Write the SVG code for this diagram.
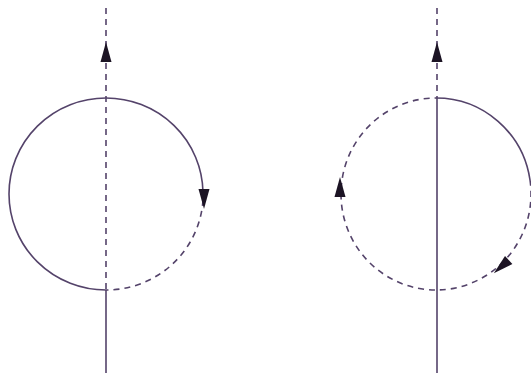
<svg xmlns="http://www.w3.org/2000/svg" width="531" height="373" viewBox="0 0 531 373">
<style>
.ln{fill:none;stroke:#54436a;stroke-width:1.6}
.ds{stroke-dasharray:6 5}
.ah{fill:#1c1424;stroke:none}
</style>
<defs>
<path id="arr" d="M0,-11 L5.5,9 L-5.5,9 Z"/>
</defs>
<rect width="531" height="373" fill="#fff"/>
<g id="left-diagram">
<path class="ln ds" d="M106,8 L106,290"/>
<path class="ln" d="M106,290 L106,373"/>
<path class="ln" d="M106,290 A97,96 0 0 1 9,194 A97,96 0 0 1 106,98 A97,96 0 0 1 203,192"/>
<path class="ln ds" d="M203,200 A97,96 0 0 1 106,290"/>
<use href="#arr" class="ah" transform="translate(106,53)"/>
<use href="#arr" class="ah" transform="translate(204,198) rotate(180)"/>
</g>
<g id="right-diagram">
<path class="ln ds" d="M437,8 L437,98"/>
<path class="ln" d="M437,98 L437,373"/>
<path class="ln" d="M436,98 A95,96 0 0 1 530,180"/>
<path class="ln ds" d="M530,180 A95,96 0 0 1 436,290 A95,96 0 0 1 341,194 A95,96 0 0 1 436,98"/>
<use href="#arr" class="ah" transform="translate(437,53)"/>
<use href="#arr" class="ah" transform="translate(340,188)"/>
<use href="#arr" class="ah" transform="translate(502,266) rotate(228)"/>
</g>
</svg>
